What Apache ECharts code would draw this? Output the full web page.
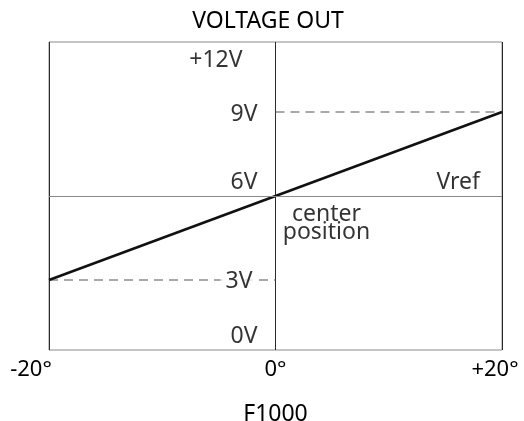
<!DOCTYPE html>
<html>
<head>
<meta charset="utf-8">
<script src="https://cdn.jsdelivr.net/npm/echarts@6/dist/echarts.min.js"></script>
<style>
  html, body { margin: 0; padding: 0; background: #fff; }
  #chart { width: 524px; height: 421px; }
</style>
</head>
<body>
<div id="chart"></div>
<script>
// angle (deg) vs voltage out
const angles = [-20, 20];
const volts = [3, 9];
const xTicks = ['-20°', '0°', '+20°'];
const refLow = [[-20, 3], [0, 3]];
const refHigh = [[0, 9], [20, 9]];
const centerV = 6;
// voltage annotations: [text, y value]
const voltNames = ['+12V', '9V', '6V', '3V', '0V'];
const voltPos = [10.85, 8.93, 6.48, 2.96, 1.0];

const font = '"Noto Sans", sans-serif';
const txt = { color: '#000', fontSize: 23, fontFamily: font };

let labelData = voltNames.map((n, i) => ({
  value: [0, voltPos[i]],
  label: {
    show: true, formatter: n, position: 'left', distance: n === '+12V' ? 33 : 18,
    ...txt,
    backgroundColor: n === '3V' ? '#fff' : 'transparent',
    padding: n === '3V' ? [0, 5, 0, 5] : 0
  }
}));
labelData.push({
  value: [20, 6.48],
  label: { show: true, formatter: 'Vref', position: 'left', distance: 22, ...txt }
});
labelData.push({
  value: [4.5, 5.02],
  label: {
    show: true, formatter: 'center\nposition', position: 'inside',
    align: 'center', verticalAlign: 'middle', lineHeight: 18, ...txt
  }
});

let option = {
  animation: false,
  title: {
    text: 'VOLTAGE OUT', left: 263, top: 5, textAlign: 'center',
    textStyle: { ...txt, fontWeight: 'normal' }
  },
  grid: {
    left: 49, right: 22, top: 42, bottom: 71,
    outerBoundsMode: 'none', containLabel: false,
    show: true, borderColor: '#8a8a8a', borderWidth: 1
  },
  xAxis: {
    type: 'value', min: -20, max: 20, interval: 20,
    name: 'F1000', nameLocation: 'middle', nameGap: 53,
    nameTextStyle: txt,
    axisLine: { show: false }, axisTick: { show: false },
    splitLine: { show: true, lineStyle: { color: '#2a2a2a', width: 1 } },
    axisLabel: {
      margin: 9,
      formatter: v => v === -20 ? '{a|' + xTicks[0] + '}' : v === 0 ? '{b|' + xTicks[1] + '}' : '{c|' + xTicks[2] + '}',
      rich: {
        a: { ...txt, fontSize: 22, padding: [0, 36, 0, 0] },
        b: { ...txt, fontSize: 22, padding: [0, 0, 0, 0] },
        c: { ...txt, fontSize: 22, padding: [0, 14, 0, 0] }
      }
    }
  },
  yAxis: {
    type: 'value', min: 0.5, max: 11.5,
    axisLine: { show: false }, axisTick: { show: false },
    axisLabel: { show: false }, splitLine: { show: false }
  },
  series: [
    {
      type: 'line', data: refLow, symbol: 'none', silent: true,
      lineStyle: { color: '#555', width: 1.2, type: [9, 6] }
    },
    {
      type: 'line', data: refHigh, symbol: 'none', silent: true,
      lineStyle: { color: '#555', width: 1.2, type: [9, 6] }
    },
    {
      type: 'line', data: angles.map((a, i) => [a, volts[i]]), symbol: 'none',
      lineStyle: { color: '#111', width: 2.6 },
      markLine: {
        silent: true, symbol: 'none', label: { show: false },
        lineStyle: { color: '#8a8a8a', width: 1, type: 'solid' },
        data: [{ yAxis: centerV }]
      },
      z: 3
    },
    {
      type: 'scatter', symbolSize: 0, data: labelData, silent: true, z: 4
    }
  ]
};

let myChart = echarts.init(document.getElementById('chart'));
myChart.setOption(option);
</script>
</body>
</html>
